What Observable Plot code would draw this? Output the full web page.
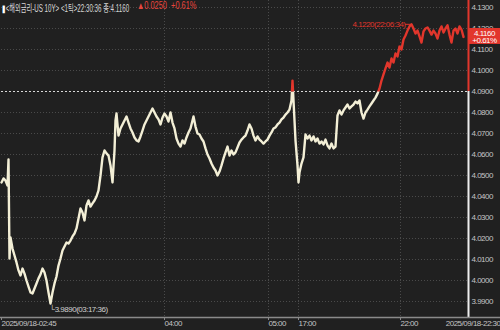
<!DOCTYPE html>
<html><head><meta charset="utf-8">
<script src="https://cdn.jsdelivr.net/npm/d3@7"></script>
<script src="https://cdn.jsdelivr.net/npm/@observablehq/plot@0.6"></script>
<style>
html,body{margin:0;padding:0;background:#202020;}
#wrap{position:relative;width:500px;height:330px;overflow:hidden;}
.hdr{position:absolute;top:0px;font-family:"Liberation Sans","Noto Sans CJK KR",sans-serif;font-size:10px;white-space:pre;transform-origin:0 0;}
#hdrW{left:2px;color:#d6d6d6;transform:scaleX(0.62);}
#hdrR{left:137px;color:#e8453c;transform:scaleX(0.74);}
svg text{font-family:"Liberation Sans",Arial,sans-serif;letter-spacing:-0.5px;}
</style></head>
<body><div id="wrap"><div id="hdrW" class="hdr"></div><div id="hdrR" class="hdr"></div></div>
<script>
// ---- data ----
const tickIndex = [0,2,4,6,7,8,9,11,13,15,17,19,21,23,25,27,29,31,33,35,37,39,41,43,45,47,49,51,53,55,57,59,61,63,65,67,69,71,73,75,77,79,81,83,85,87,89,91,93,95,97,99,101,103,105,107,109,111,113,114,115,117,119,121,123,125,127,129,131,133,135,137,139,141,143,145,147,149,151,153,155,157,159,161,163,165,167,169,171,173,175,177,179,181,183,185,187,189,191,192,194,196,198,200,202,204,206,208,210,212,214,216,218,220,222,224,226,228,230,232,234,236,238,240,242,244,246,248,250,252,254,256,258,260,262,264,266,268,270,272,274,276,278,280,282,284,286,288,290,291,292,293,294,296,297,298,300,302,304,306,308,310,312,314,316,318,320,322,324,326,328,330,332,334,336,338,340,342,344,346,348,350,352,354,356,358,360,362,364,366,368,370,372,374,376,378,380,382,384,386,388,390,392,394,396,398,400,402,404,406,408,410,412,414,416,418,420,422,424,426,428,430,432,434,436,438,440,442,444,446,448,450,452,454,456,458,460,462];
const price = [4.0467,4.0486,4.0476,4.0452,4.0576,4.0105,4.0205,4.0152,4.0119,4.0086,4.0048,4.0024,4.0057,4.0033,4.0000,3.9971,3.9943,3.9938,3.9962,3.9986,4.0010,4.0029,4.0057,4.0038,4.0000,3.9943,3.9890,3.9943,3.9986,4.0019,4.0071,4.0105,4.0143,4.0162,4.0181,4.0176,4.0190,4.0210,4.0224,4.0248,4.0295,4.0343,4.0324,4.0286,4.0357,4.0381,4.0352,4.0367,4.0381,4.0400,4.0429,4.0500,4.0586,4.0619,4.0605,4.0595,4.0548,4.0467,4.0619,4.0762,4.0795,4.0690,4.0724,4.0743,4.0762,4.0781,4.0752,4.0724,4.0705,4.0681,4.0667,4.0662,4.0686,4.0714,4.0743,4.0762,4.0781,4.0800,4.0819,4.0800,4.0781,4.0767,4.0743,4.0776,4.0795,4.0781,4.0757,4.0800,4.0752,4.0724,4.0676,4.0652,4.0638,4.0667,4.0652,4.0681,4.0705,4.0724,4.0762,4.0781,4.0733,4.0700,4.0695,4.0676,4.0662,4.0629,4.0600,4.0581,4.0557,4.0538,4.0524,4.0500,4.0519,4.0548,4.0581,4.0610,4.0638,4.0595,4.0619,4.0600,4.0610,4.0633,4.0657,4.0671,4.0681,4.0690,4.0714,4.0743,4.0724,4.0690,4.0667,4.0686,4.0671,4.0662,4.0652,4.0662,4.0671,4.0690,4.0705,4.0724,4.0729,4.0743,4.0752,4.0767,4.0776,4.0790,4.0800,4.0814,4.0857,4.0952,4.0857,4.0762,4.0667,4.0548,4.0467,4.0514,4.0557,4.0586,4.0695,4.0676,4.0690,4.0667,4.0686,4.0662,4.0676,4.0652,4.0662,4.0648,4.0671,4.0643,4.0629,4.0652,4.0629,4.0638,4.0786,4.0810,4.0790,4.0810,4.0824,4.0838,4.0819,4.0829,4.0838,4.0852,4.0843,4.0857,4.0800,4.0771,4.0800,4.0814,4.0829,4.0843,4.0857,4.0871,4.0890,4.0914,4.0952,4.0981,4.1010,4.1038,4.1014,4.1057,4.1038,4.1081,4.1067,4.1114,4.1100,4.1148,4.1167,4.1190,4.1210,4.1220,4.1200,4.1176,4.1190,4.1162,4.1133,4.1186,4.1200,4.1205,4.1190,4.1171,4.1190,4.1176,4.1152,4.1190,4.1210,4.1181,4.1200,4.1215,4.1171,4.1133,4.1190,4.1200,4.1176,4.1210,4.1195,4.1160];
const prevClose = 4.0900;
const lastPrice = 4.1160;
const lastChange = "+0.61%";
const yTicks = [3.99,4.00,4.01,4.02,4.03,4.04,4.05,4.06,4.07,4.08,4.09,4.10,4.11,4.12,4.13];
const timeTickIndex = [163,267,297,399];
const timeTickLabel = ["04:00","05:00","17:00","22:00"];
const startLabel = "2025/09/18-02:45";
const endLabel = "2025/09/18-22:30";
const maxIndex = 410, maxLabel = "4.1220(22:06:34)";
const minIndex = 49, minLabel = "3.9890(03:17:36)";
const headerText = "<해외금리-US 10Y> <1틱>22:30:36 종:4.1160";
const headerChange = "▲0.0250  +0.61%";

const data = tickIndex.map((t, i) => ({t, p: price[i]}));
const cream = "#f3efd6", red = "#e2362c", grid = "#4a4a4a", axisCol = "#c4c4c4";
const xEnd = 467;
const yLo = 3.99 - 16/2100, yHi = 4.13 + 7/2100;

const chart = Plot.plot({
  width: 500, height: 330,
  marginLeft: 0, marginRight: 33, marginTop: 0, marginBottom: 13,
  style: {background: "#202020", color: axisCol, fontSize: "8px", overflow: "visible"},
  x: {domain: [0, xEnd], range: [1, 468], axis: null},
  y: {domain: [yLo, yHi], axis: null},
  marks: [
    Plot.ruleY(yTicks.filter(d => d !== prevClose), {y: d => d, x1: () => 0, x2: () => xEnd, stroke: grid, strokeDasharray: "1,2"}),
    Plot.ruleX(timeTickIndex, {x: d => d, stroke: grid, strokeDasharray: "1,2"}),
    Plot.ruleY([prevClose], {y: d => d, x1: () => 0, x2: () => xEnd, stroke: "#d8d8d8", strokeDasharray: "2,2"}),
    Plot.line(data, {x: "t", y: "p", stroke: cream, strokeWidth: 2.4, strokeLinejoin: "round", ariaDescription: "below"}),
    Plot.line(data, {x: "t", y: "p", stroke: red, strokeWidth: 2.4, strokeLinejoin: "round", ariaDescription: "above"}),
    // y tick labels
    Plot.text(yTicks, {y: d => d, text: d => d3.format(".4f")(d), frameAnchor: "right", dx: 4, textAnchor: "start", fill: axisCol}),
    // right axis line
    Plot.ruleX([xEnd], {x: d => d, y1: () => yHi, y2: () => prevClose, stroke: red, strokeWidth: 2}),
    Plot.ruleX([xEnd], {x: d => d, y1: () => prevClose, y2: () => yLo, stroke: "#eeeeee", strokeWidth: 2}),
    // bottom axis line
    Plot.ruleY([yLo], {y: d => d, x1: () => -2, x2: () => 520, stroke: "#8a8a8a", strokeWidth: 1.5}),
    Plot.ruleX([0, ...timeTickIndex], {x: d => d, y1: () => yLo, y2: () => yLo - 3/2100, stroke: "#8a8a8a"}),
    // x tick labels
    Plot.text(timeTickIndex, {x: d => d, text: (d, i) => timeTickLabel[i], frameAnchor: "bottom", dy: 8, textAnchor: "start", fill: axisCol}),
    Plot.text([startLabel], {frameAnchor: "bottom-left", dy: 8, dx: 1, textAnchor: "start", fill: axisCol}),
    Plot.text([endLabel], {frameAnchor: "bottom-right", dy: 8, dx: 33, textAnchor: "end", fill: axisCol}),
    // last price box (covers the 4.1200 label as in the reference)
    Plot.rect([lastPrice], {x1: () => xEnd, x2: () => 500, y1: d => d + 0.0040, y2: d => d - 0.0036, fill: red}),
    Plot.text([lastPrice], {y: d => d, text: d => d3.format(".4f")(d), frameAnchor: "right", dx: 17, dy: -3.5, textAnchor: "middle", fill: "#ffffff"}),
    Plot.text([lastPrice], {y: d => d, text: () => lastChange, frameAnchor: "right", dx: 17, dy: 4, textAnchor: "middle", fill: "#ffffff"}),
    // max annotation
    Plot.ruleY([price[tickIndex.indexOf(maxIndex)]], {y: d => d, x1: () => maxIndex - 6, x2: () => maxIndex, stroke: red}),
    Plot.text([price[tickIndex.indexOf(maxIndex)]], {x: () => maxIndex, y: d => d, text: () => maxLabel, dx: -6, textAnchor: "end", fill: red}),
    // min annotation
    Plot.text([price[tickIndex.indexOf(minIndex)]], {x: () => minIndex, y: d => d, text: () => "└" + minLabel, dx: -1, dy: 6, textAnchor: "start", fill: "#cfcfcf"})
  ]
});

// clip the two line copies at the previous close
const yPrev = chart.scale("y").apply(prevClose);
const svg = d3.select(chart);
const defs = svg.insert("defs", ":first-child");
defs.append("clipPath").attr("id", "clipAbove").append("rect").attr("x", -5).attr("y", -5).attr("width", 520).attr("height", yPrev + 5);
defs.append("clipPath").attr("id", "clipBelow").append("rect").attr("x", -5).attr("y", yPrev).attr("width", 520).attr("height", 400);
svg.select('g[aria-description="above"]').attr("clip-path", "url(#clipAbove)");
svg.select('g[aria-description="below"]').attr("clip-path", "url(#clipBelow)");

document.getElementById("wrap").prepend(chart);
document.getElementById("hdrW").innerHTML = '<span style="color:#fff">▮</span>' + headerText.replace(/</g, "&lt;").replace(/>/g, "&gt;");
document.getElementById("hdrR").textContent = headerChange;
</script></body></html>
